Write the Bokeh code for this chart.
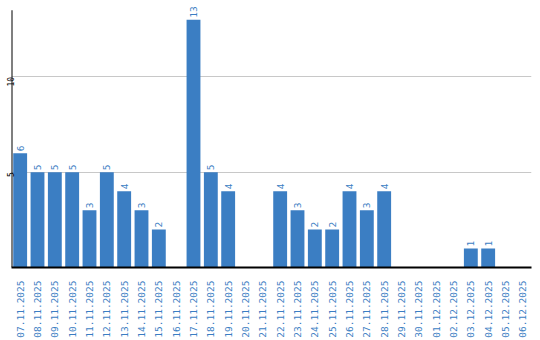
import math
from bokeh.plotting import figure
from bokeh.models import ColumnDataSource, FixedTicker, Range1d
from bokeh.core.properties import value
from bokeh.embed import file_html
from bokeh.resources import INLINE

dates = ["07.11.2025", "08.11.2025", "09.11.2025", "10.11.2025", "11.11.2025",
         "12.11.2025", "13.11.2025", "14.11.2025", "15.11.2025", "16.11.2025",
         "17.11.2025", "18.11.2025", "19.11.2025", "20.11.2025", "21.11.2025",
         "22.11.2025", "23.11.2025", "24.11.2025", "25.11.2025", "26.11.2025",
         "27.11.2025", "28.11.2025", "29.11.2025", "30.11.2025", "01.12.2025",
         "02.12.2025", "03.12.2025", "04.12.2025", "05.12.2025", "06.12.2025"]
counts = [6, 5, 5, 5, 3, 5, 4, 3, 2, 0,
          13, 5, 4, 0, 0, 4, 3, 2, 2, 4,
          3, 4, 0, 0, 0, 0, 1, 1, 0, 0]
y_ticks = [5, 10]
Y_AXIS_TOP = 13.5

BLUE = "#3b7ec3"
FONT = "DejaVu Sans Mono"

src = ColumnDataSource(dict(x=dates, top=counts))
lab = ColumnDataSource(dict(
    x=[d for d, c in zip(dates, counts) if c > 0],
    y=[c for c in counts if c > 0],
    t=[str(c) for c in counts if c > 0],
))

p = figure(x_range=dates, y_range=Range1d(0, 13.8), width=540, height=340,
           output_backend="svg", toolbar_location=None,
           min_border_left=0, min_border_right=9, min_border_top=4,
           min_border_bottom=71)
p.outline_line_color = None
p.background_fill_color = "white"

p.vbar(x="x", top="top", width=0.8, source=src, fill_color=BLUE, line_color=None)
p.text(x="x", y="y", text="t", source=lab, angle=math.pi / 2, y_offset=-2,
       text_align="left", text_baseline="middle", text_color=BLUE,
       text_font=value(FONT), text_font_size="9.5px")

# y axis line (stops below the top label room, as in the reference)
p.segment(x0=[0], y0=[0], x1=[0], y1=[Y_AXIS_TOP], line_color="black",
          line_width=2)

p.xgrid.grid_line_color = None
p.ygrid.grid_line_color = "#c8c8c8"
p.ygrid.grid_line_width = 1
p.yaxis.ticker = FixedTicker(ticks=y_ticks)

p.xaxis.major_label_orientation = math.pi / 2
p.xaxis.major_label_text_color = BLUE
p.xaxis.major_label_text_font = FONT
p.xaxis.major_label_text_font_size = "9.5px"
p.xaxis.major_label_standoff = 7
p.xaxis.major_tick_line_color = None
p.xaxis.minor_tick_line_color = None
p.xaxis.axis_line_color = "black"
p.xaxis.axis_line_width = 2

p.yaxis.major_label_orientation = math.pi / 2
p.yaxis.major_label_text_color = "black"
p.yaxis.major_label_text_font = FONT
p.yaxis.major_label_text_font_size = "8px"
p.yaxis.major_label_standoff = 1
p.yaxis.major_tick_out = 0
p.yaxis.major_tick_in = 0
p.yaxis.major_tick_line_color = None
p.yaxis.minor_tick_line_color = None
p.yaxis.axis_line_color = None

open("out.html", "w").write(file_html(p, INLINE))
